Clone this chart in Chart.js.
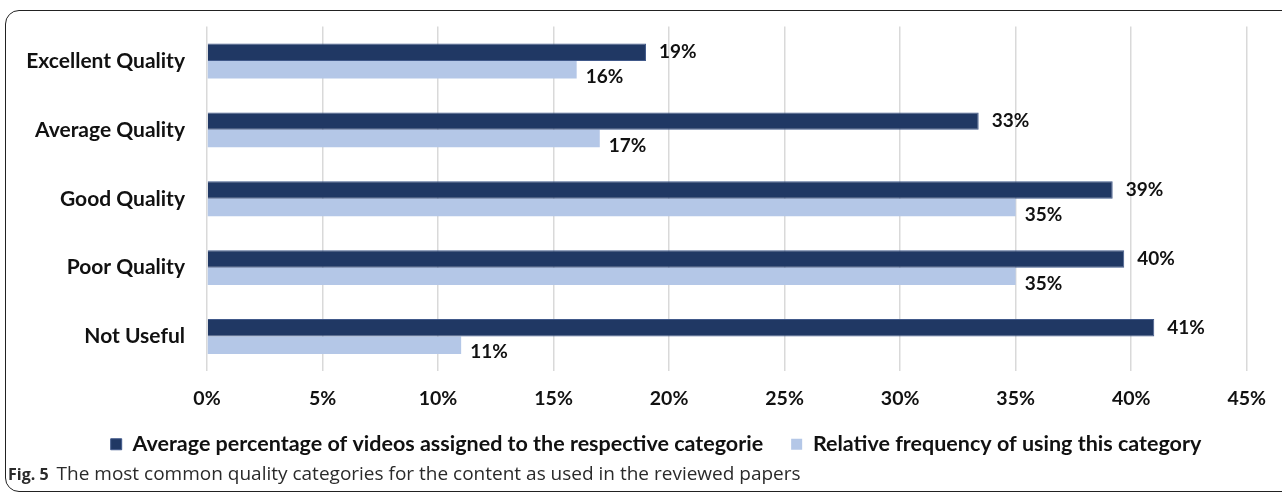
<!DOCTYPE html>
<html>
<head>
<meta charset="utf-8">
<script src="https://cdn.jsdelivr.net/npm/chart.js@4.4.1/dist/chart.umd.min.js"></script>
<style>
  html, body { margin: 0; padding: 0; background: #fff; }
  body { width: 1282px; height: 497px; position: relative; overflow: hidden; }
  .frame {
    position: absolute; left: 5px; top: 10px; width: 1300px; height: 482px;
    border: 1.5px solid #222; border-radius: 14px; box-sizing: border-box;
  }
  #wrap { position: absolute; left: 0; top: 0; width: 1282px; height: 483px; }
  .caption {
    position: absolute; left: 8px; top: 460px;
    font-family: "Open Sans", sans-serif; font-size: 19px; color: #2a2a2a;
    white-space: nowrap;
  }
  .caption b { font-weight: 700; font-size: 16px; margin-right: 8px; }
</style>
</head>
<body>
<div class="frame"></div>
<div id="wrap"><canvas id="barchart" width="1282" height="483"></canvas></div>
<div class="caption"><b>Fig. 5</b>The most common quality categories for the content as used in the reviewed papers</div>
<script>
    // Data
    const categories = ['Excellent Quality','Average Quality','Good Quality','Poor Quality','Not Useful'];
    const avgAssigned = [19, 33.4, 39.2, 39.7, 41];
    const relFrequency = [16, 17, 35, 35, 11];
    const seriesNames = ['Average percentage of videos assigned to the respective categorie','Relative frequency of using this category'];
    const tickValues = [0,5,10,15,20,25,30,35,40,45];

    const fontFamily = 'Lato, "Liberation Sans", sans-serif';

    // draws the value labels next to the bars
    const valueLabels = {
        id:'valueLabels',
        afterDatasetsDraw(chart){
            const ctx = chart.ctx;
            ctx.save();
            ctx.font = 'bold 19px ' + fontFamily;
            ctx.fillStyle = '#111';
            ctx.textBaseline = 'middle';
            ctx.textAlign = 'left';
            chart.data.datasets.forEach((ds,i)=>{
                const meta = chart.getDatasetMeta(i);
                meta.data.forEach((bar,j)=>{
                    const dx = i === 0 ? 13 : 9;
                    const dy = i === 0 ? 0 : 7;
                    ctx.fillText(Math.round(ds.data[j]) + '%', bar.x + dx, bar.y + dy);
                })
            })
            ctx.restore();
        }
    }

    // nudge the legend so it sits centred under the figure like the original
    const legendShift = {
        id:'legendShift',
        afterLayout(chart){
            chart.legend.left += 31;
            chart.legend.right += 31;
        }
    }

    new Chart('barchart',{
        type:'bar',
        data:{
            labels:categories,
            datasets:[{
                label:seriesNames[0],
                data:avgAssigned,
                backgroundColor:'#203864',
                borderColor:'#41598a',
                borderWidth:1
            },{
                label:seriesNames[1],
                data:relFrequency,
                backgroundColor:'#b4c7e7',
                borderWidth:0
            }]
        },
        options:{
            indexAxis:'y',
            responsive:false,
            animation:false,
            layout:{
                padding:{top:26.5,left:0,right:32,bottom:18}
            },
            categoryPercentage:0.507,
            barPercentage:1,
            scales:{
                x:{
                    min:0,
                    max:45,
                    afterBuildTicks:(scale)=>{ scale.ticks = tickValues.map(v=>({value:v})) },
                    afterFit:(scale)=>{ scale.height = 34.5 },
                    grid:{ color:'#d9d9d9', lineWidth:1.5, drawTicks:false },
                    border:{ display:false },
                    ticks:{
                        padding:16,
                        color:'#111',
                        font:{ family:fontFamily, size:19.5, weight:'bold' },
                        callback:(v)=> v + '%'
                    }
                },
                y:{
                    afterFit:(scale)=>{ scale.width = 207 },
                    grid:{ display:false, drawTicks:true, tickLength:22 },
                    border:{ display:false },
                    ticks:{
                        padding:0,
                        color:'#111',
                        font:{ family:fontFamily, size:21, weight:'bold' }
                    }
                }
            },
            plugins:{
                legend:{
                    position:'bottom',
                    labels:{
                        boxWidth:11,
                        boxHeight:11,
                        padding:28,
                        color:'#111',
                        font:{ family:fontFamily, size:21.5, weight:'bold' }
                    }
                },
                tooltip:{ enabled:false }
            }
        },
        plugins:[valueLabels, legendShift]
    })
</script>
</body>
</html>
